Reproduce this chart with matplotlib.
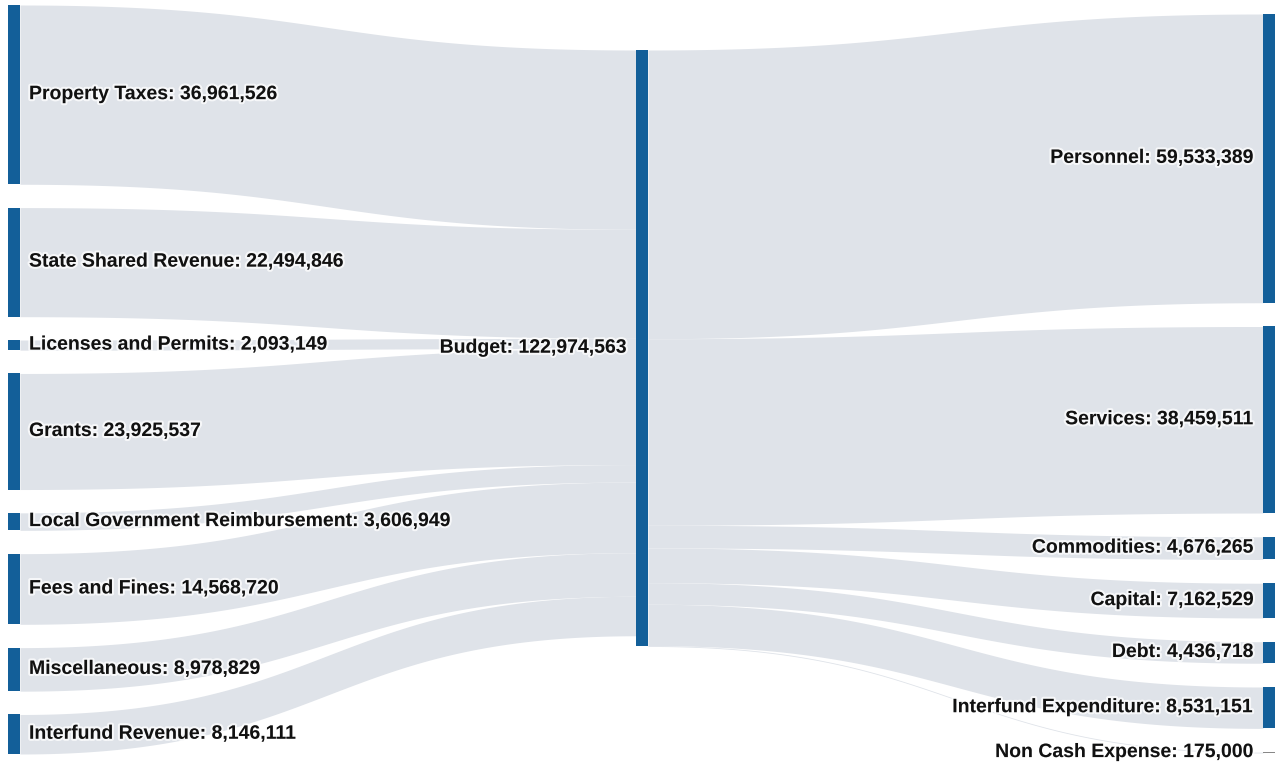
import matplotlib
matplotlib.use("Agg")
import matplotlib.pyplot as plt
import matplotlib.patheffects as pe
import numpy as np

# ---------------- data ----------------
sources = ["Property Taxes", "State Shared Revenue", "Licenses and Permits", "Grants",
           "Local Government Reimbursement", "Fees and Fines", "Miscellaneous",
           "Interfund Revenue"]
source_values = [36961526, 22494846, 2093149, 23925537, 3606949, 14568720, 8978829, 8146111]

hub_name = "Budget"
hub_value = 122974563

targets = ["Personnel", "Services", "Commodities", "Capital", "Debt",
           "Interfund Expenditure", "Non Cash Expense"]
target_values = [59533389, 38459511, 4676265, 7162529, 4436718, 8531151, 175000]

# ---------------- layout / style ----------------
W, H = 1279, 765
scale = 4.85e-6          # pixels per dollar
node_w = 12
col_x = [8, 636, 1263]
left_span = (5, 754)
right_span = (14, 753)
hub_top = 50
node_color = "#135f99"
link_color = "#dfe3e9"
text_color = "#111111"
font = dict(family=["Liberation Sans", "DejaVu Sans"], fontweight="bold", fontsize=14,
            color=text_color)
halo = [pe.withStroke(linewidth=3, foreground=(1, 1, 1, 0.75))]

fig = plt.figure(figsize=(W / 100, H / 100), dpi=100)
ax = fig.add_axes([0, 0, 1, 1])
ax.set_xlim(0, W)
ax.set_ylim(H, 0)
ax.axis("off")


def stack(values, span):
    hs = [v * scale for v in values]
    gap = (span[1] - span[0] - sum(hs)) / (len(hs) - 1)
    tops, y = [], span[0]
    for h in hs:
        tops.append(y)
        y += h + gap
    return tops, hs


def link(x0, y0a, y0b, x1, y1a, y1b):
    t = np.linspace(0, 1, 120)
    xm = (x0 + x1) / 2
    b0, b1, b2, b3 = (1 - t) ** 3, 3 * (1 - t) ** 2 * t, 3 * (1 - t) * t ** 2, t ** 3
    x = b0 * x0 + (b1 + b2) * xm + b3 * x1
    ya = (b0 + b1) * y0a + (b2 + b3) * y1a
    yb = (b0 + b1) * y0b + (b2 + b3) * y1b
    ax.fill_between(x, ya, yb, color=link_color, lw=0, zorder=1)


s_tops, s_h = stack(source_values, left_span)
t_tops, t_h = stack(target_values, right_span)
hub_h = max(hub_value, sum(source_values), sum(target_values)) * scale

# links: sources -> hub
y_in = hub_top
for top, h in zip(s_tops, s_h):
    link(col_x[0] + node_w, top, top + h, col_x[1], y_in, y_in + h)
    y_in += h
# links: hub -> targets
y_out = hub_top
for top, h in zip(t_tops, t_h):
    link(col_x[1] + node_w, y_out, y_out + h, col_x[2], top, top + h)
    y_out += h

# nodes
for top, h in zip(s_tops, s_h):
    ax.add_patch(plt.Rectangle((col_x[0], top), node_w, h, color=node_color, lw=0, zorder=3))
ax.add_patch(plt.Rectangle((col_x[1], hub_top), node_w, hub_h, color=node_color, lw=0, zorder=3))
for top, h in zip(t_tops, t_h):
    ax.add_patch(plt.Rectangle((col_x[2], top), node_w, max(h, 1.2), color="#888888" if h < 1.2 else node_color,
                               lw=0, zorder=3))

# labels
for name, v, top, h in zip(sources, source_values, s_tops, s_h):
    ax.text(col_x[0] + node_w + 9, top + h / 2, f"{name}: {v:,}", ha="left", va="center",
            zorder=5, path_effects=halo, **font)
ax.text(col_x[1] - 9, hub_top + hub_h / 2, f"{hub_name}: {hub_value:,}", ha="right", va="center",
        zorder=5, path_effects=halo, **font)
for name, v, top, h in zip(targets, target_values, t_tops, t_h):
    ax.text(col_x[2] - 9, top + h / 2, f"{name}: {v:,}", ha="right", va="center",
            zorder=5, path_effects=halo, **font)

fig.savefig("out.png", dpi=100, facecolor="white")
